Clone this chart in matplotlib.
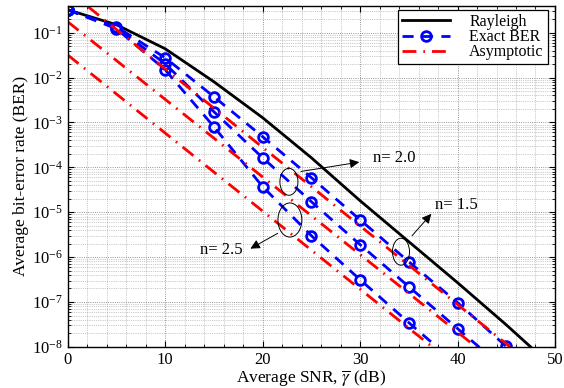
import matplotlib
matplotlib.use("Agg")
import matplotlib.pyplot as plt
from matplotlib.patches import Ellipse

plt.rcParams.update({
    "font.family": "serif",
    "font.serif": ["Liberation Serif", "DejaVu Serif"],
    "mathtext.fontset": "stix",
    "font.size": 12,
    "axes.linewidth": 1.0,
})

# values
snr_rayleigh = [0, 5, 10, 15, 20, 25, 30, 35, 40, 45, 47.5]
ber_rayleigh = [3.25e-1, 1.51e-1, 4.4e-2, 8.1e-3, 1.28e-3, 1.64e-4, 1.81e-5, 2.21e-6, 2.7e-7, 3.1e-8, 1e-8]

snr_n15 = [0, 5, 10, 15, 20, 25, 30, 35, 40, 45]
ber_n15 = [3.25e-1, 1.36e-1, 2.77e-2, 3.76e-3, 4.83e-4, 5.9e-5, 6.8e-6, 7.9e-7, 9.7e-8, 1.02e-8]

snr_n20 = [0, 5, 10, 15, 20, 25, 30, 35, 40, 45]
ber_n20 = [3.25e-1, 1.29e-1, 2.04e-2, 1.74e-3, 1.64e-4, 1.72e-5, 1.9e-6, 2.2e-7, 2.56e-8, 3.0e-9]

snr_n25 = [0, 5, 10, 15, 20, 25, 30, 35, 40]
ber_n25 = [3.25e-1, 1.23e-1, 1.5e-2, 8.05e-4, 3.72e-5, 3.01e-6, 3.15e-7, 3.47e-8, 4.0e-9]

# asymptotic lines: end points where they meet the frame
snr_asym_n15 = [2.1, 45.4]
ber_asym_n15 = [3.8e-1, 1e-8]
snr_asym_n20 = [0, 41.9]
ber_asym_n20 = [1.76e-1, 1e-8]
snr_asym_n25 = [0, 37.4]
ber_asym_n25 = [3.2e-2, 1e-8]

fig = plt.figure(figsize=(5.64, 3.88), dpi=100)
ax = fig.add_axes([0.12, 0.106, 0.864, 0.879])

ax.plot(snr_rayleigh, ber_rayleigh, color="k", lw=2.0, label="Rayleigh")
for i, (s, b) in enumerate([(snr_n15, ber_n15), (snr_n20, ber_n20), (snr_n25, ber_n25)]):
    ax.plot(s, b, color="b", lw=2.0, ls=(0, (4, 3)), marker="o", ms=7,
            mfc="none", mec="b", mew=2.0,
            label="Exact BER" if i == 0 else None)
for i, (s, b) in enumerate([(snr_asym_n15, ber_asym_n15), (snr_asym_n20, ber_asym_n20),
                            (snr_asym_n25, ber_asym_n25)]):
    ax.plot(s, b, color="r", lw=2.0, ls=(0, (5, 2.5, 0.6, 2.5)),
            label="Asymptotic" if i == 0 else None)

ax.set_yscale("log")
ax.set_xlim(0, 50)
ax.set_ylim(1e-8, 10 ** -0.4)
ax.set_xticks([0, 10, 20, 30, 40, 50])
ax.set_xticks(range(0, 51, 2), minor=True)
ax.set_yticks([10.0 ** -k for k in range(1, 9)])
ax.tick_params(which="both", direction="in", top=True, right=True, labelsize=12)
ax.tick_params(which="major", length=4)
ax.tick_params(which="minor", length=2)
ax.grid(True, which="major", ls=":", color="0.45", lw=0.6)
ax.grid(True, which="minor", ls=":", color="0.6", lw=0.5)

ax.set_xlabel(r"Average SNR, $\overline{\gamma}$ (dB)", fontsize=12.5, labelpad=1)
ax.set_ylabel("Average bit-error rate (BER)", fontsize=12.5, labelpad=2)

# ellipses marking the curve groups (axes-fraction coordinates)
for cx, cy, w, h in [(0.454, 0.484, 0.037, 0.079), (0.456, 0.372, 0.049, 0.10),
                     (0.684, 0.279, 0.035, 0.079)]:
    ax.add_patch(Ellipse((cx, cy), w, h, transform=ax.transAxes,
                         fill=False, ec="k", lw=0.7, zorder=5))

arrow = dict(arrowstyle="-|>", lw=0.7, color="k", mutation_scale=14)
ax.annotate("", xy=(0.604, 0.543), xytext=(0.473, 0.513),
            xycoords="axes fraction", arrowprops=arrow)
ax.text(0.626, 0.554, "n= 2.0", transform=ax.transAxes, va="center", ha="left", fontsize=12)
ax.annotate("", xy=(0.750, 0.396), xytext=(0.703, 0.320),
            xycoords="axes fraction", arrowprops=arrow)
ax.text(0.754, 0.416, "n= 1.5", transform=ax.transAxes, va="center", ha="left", fontsize=12)
ax.annotate("", xy=(0.370, 0.284), xytext=(0.436, 0.337),
            xycoords="axes fraction", arrowprops=arrow)
ax.text(0.358, 0.284, "n= 2.5", transform=ax.transAxes, va="center", ha="right", fontsize=12)

leg = ax.legend(loc="upper right", bbox_to_anchor=(0.985, 0.988), fancybox=False,
                edgecolor="k", framealpha=1, fontsize=11.5, handlelength=3.0,
                borderaxespad=0.0, labelspacing=-0.05, borderpad=0.25,
                handletextpad=1.2)
leg.get_frame().set_linewidth(0.9)

fig.savefig("out.png", dpi=100)
